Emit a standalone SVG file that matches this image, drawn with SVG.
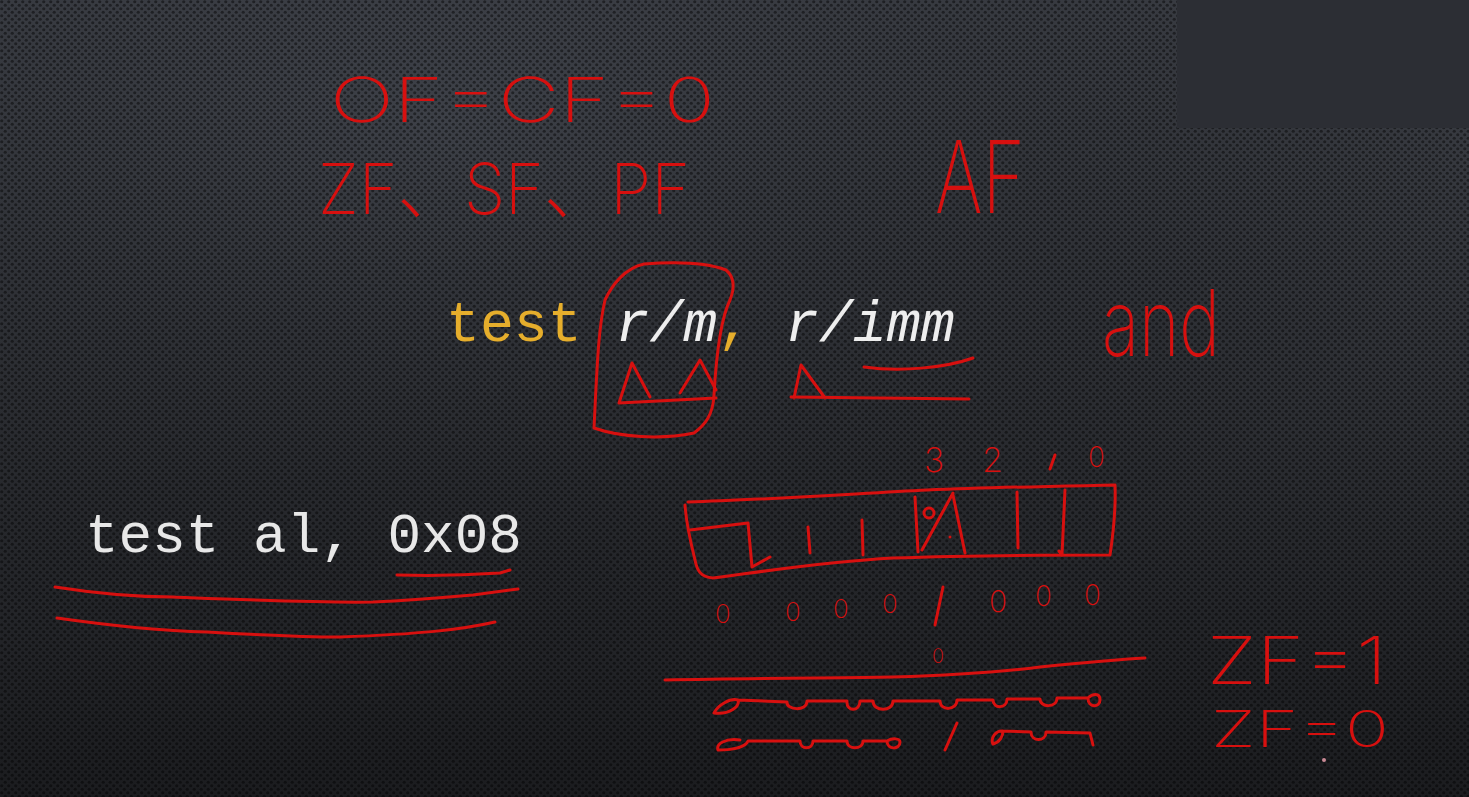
<svg xmlns="http://www.w3.org/2000/svg" width="1469" height="797" viewBox="0 0 1469 797">
<defs>
<linearGradient id="bg" x1="0" y1="0" x2="0" y2="1">
<stop offset="0" stop-color="#3b3e45"/>
<stop offset="0.5" stop-color="#2d2f34"/>
<stop offset="1" stop-color="#1b1c1f"/>
</linearGradient>
<radialGradient id="glow" cx="0.3" cy="0.15" r="0.7">
<stop offset="0" stop-color="#4a4e57" stop-opacity="0.35"/>
<stop offset="1" stop-color="#000" stop-opacity="0"/>
</radialGradient>
<pattern id="dots" width="7" height="7" patternUnits="userSpaceOnUse">
<circle cx="1.75" cy="1.75" r="1.6" fill="#000" fill-opacity="0.45"/>
<circle cx="5.25" cy="5.25" r="1.6" fill="#000" fill-opacity="0.45"/>
</pattern>
</defs>
<style>
.ink{fill:none;stroke:#d7100f;stroke-width:3;stroke-linecap:round;stroke-linejoin:round}
.hw{fill:#d7100f;font-family:Inter,"Liberation Sans","Noto Sans CJK SC",sans-serif;font-weight:200}
.code{font-family:"Liberation Mono",monospace}
</style>
<rect width="1469" height="797" fill="url(#bg)"/>
<rect width="1469" height="797" fill="url(#glow)"/>
<rect width="1469" height="797" fill="url(#dots)"/>
<rect x="1177" y="0" width="292" height="128" fill="#2c2e34"/>

<g id="flags">
<text class="hw" x="330" y="122" font-size="62" textLength="385" lengthAdjust="spacingAndGlyphs">OF=CF=0</text>
<text class="hw" x="318" y="214" font-size="70" textLength="372" lengthAdjust="spacingAndGlyphs">ZF、SF、PF</text>
<text class="hw" x="935" y="213" font-size="100" textLength="90" lengthAdjust="spacingAndGlyphs">AF</text>
<text class="hw" x="1102" y="356" font-size="92" textLength="118" lengthAdjust="spacingAndGlyphs">and</text>
</g>

<g id="instr">
<text class="code" x="446" y="341" font-size="56.5"><tspan fill="#e6ae2c">test </tspan><tspan fill="#eeeeee" font-style="italic">r/m</tspan><tspan fill="#e6ae2c">,</tspan><tspan fill="#eeeeee" font-style="italic"> r/imm</tspan></text>
<path class="ink" d="M644,264 C625,268 612,285 605,300 C598,330 597,370 594,428 C620,437 660,440 694,433 C705,425 713,415 714,395 C716,360 720,320 730,300 C736,285 733,276 726,270 C705,262 670,262 644,264 Z"/>
<path class="ink" d="M619,403 L632,363 L650,397 M680,393 L700,360 L716,390 M619,403 L716,398"/>
<path class="ink" d="M794,398 L801,365 L825,398 M791,397 L969,399 M864,367 C900,372 945,368 973,358"/>
</g>

<g id="example">
<text class="code" x="85" y="552" font-size="56" fill="#e8e8e8">test al, 0x08</text>
<path class="ink" d="M397,575 C430,576 470,575 500,573 L510,570"/>
<path class="ink" d="M55,587 C100,594 140,597 173,597 C250,600 320,603 373,602 C420,600 450,597 473,595 L518,589"/>
<path class="ink" d="M57,618 C120,627 170,631 207,632 C260,635 300,637 340,637 C420,634 460,630 495,622"/>
</g>

<g id="bits">
<text class="hw" x="924" y="472" font-size="34">3</text>
<text class="hw" x="982" y="472" font-size="34">2</text>
<path class="ink" d="M1055,455 L1050,469"/>
<text class="hw" x="1088" y="467" font-size="28">0</text>
<path class="ink" d="M688,502 C760,500 850,494 927,490 C1000,487 1070,486 1115,485 C1116,510 1113,535 1110,555 C1030,555 950,556 893,558 C820,562 760,572 713,578 C700,577 697,570 695,560 C690,540 686,520 685,505"/>
<path class="ink" d="M690,530 L748,523 L752,567 L770,557"/>
<path class="ink" d="M808,527 L810,553 M862,520 L863,555 M915,497 L918,552 M953,493 L922,550 M953,495 L965,553 M1017,492 L1018,548 M1065,490 L1062,555 L1059,551"/>
<circle cx="929" cy="513" r="5" class="ink" stroke-width="2.5"/>
<circle cx="950" cy="537" r="1.5" fill="#d7100f"/>
</g>

<g id="result">
<text class="hw" x="715" y="623" font-size="26">0</text>
<text class="hw" x="785" y="621" font-size="26">0</text>
<text class="hw" x="833" y="618" font-size="26">0</text>
<text class="hw" x="882" y="613" font-size="26">0</text>
<path class="ink" d="M943,587 L935,625"/>
<text class="hw" x="989" y="612" font-size="30">0</text>
<text class="hw" x="1035" y="606" font-size="28">0</text>
<text class="hw" x="1084" y="605" font-size="28">0</text>
<text class="hw" x="932" y="663" font-size="20">0</text>
<path class="ink" d="M665,680 C760,678 840,678 893,677 C960,675 1000,672 1040,667 C1080,663 1110,660 1145,658"/>
<path class="ink" d="M738,700 C730,698 718,705 714,713 C730,715 740,706 738,700 L787,702 C786,710 807,712 807,701 L847,701 C846,712 860,712 860,701 L873,701 C873,712 893,712 893,701 L940,701 C940,711 957,711 957,700 L993,700 C993,709 1007,709 1007,699 L1040,699 C1040,708 1057,708 1057,698 L1088,698 C1088,708 1100,708 1100,700 C1100,692 1092,694 1088,698"/>
<path class="ink" d="M740,740 C725,738 716,744 718,750 C730,750 745,748 748,741 L800,741 C800,750 813,750 813,741 L847,741 C847,750 863,750 863,741 L887,741 C887,750 900,750 900,742 C900,738 892,738 887,741"/>
<path class="ink" d="M957,723 L945,750"/>
<path class="ink" d="M1003,731 C996,730 990,738 993,744 C1000,742 1003,736 1003,731 L1031,732 C1031,742 1046,742 1046,732 L1090,733 L1093,745"/>
</g>

<g id="zf">
<text class="hw" x="1207" y="684" font-size="66" textLength="180" lengthAdjust="spacingAndGlyphs">ZF=1</text>
<text class="hw" x="1211" y="747" font-size="50" textLength="178" lengthAdjust="spacingAndGlyphs">ZF=0</text>
<circle cx="1324" cy="760" r="2" fill="#c98a95"/>
</g>
</svg>
